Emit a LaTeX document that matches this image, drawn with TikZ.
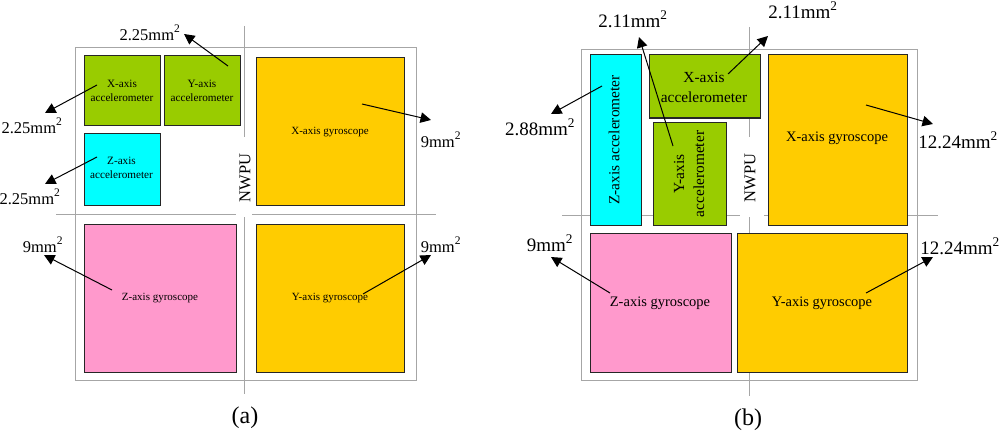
\documentclass[tikz,border=0pt]{standalone}
\usepackage{fontspec}
\setmainfont{Liberation Serif}
\usetikzlibrary{arrows.meta}
\definecolor{grn}{HTML}{99CC00}
\definecolor{cyn}{HTML}{00FFFF}
\definecolor{org}{HTML}{FFCC00}
\definecolor{pnk}{HTML}{FF99CC}
\definecolor{gry}{HTML}{A6A6A6}
\newcommand{\sq}{\raisebox{1.5pt}{\textsuperscript{2}}}
\tikzset{
  x=1pt,y=-1pt,
  guide/.style={draw=gry,line width=0.9pt},
  block/.style={draw=black!85,line width=1pt},
  ptr/.style={draw=black,line width=1pt,-{Triangle[length=10.5pt,width=10.5pt]}},
  fsa/.style={font=\fontsize{11.2}{13.5}\selectfont,align=center,inner sep=0pt,text=black},
  fga/.style={font=\fontsize{11}{13}\selectfont,align=center,inner sep=0pt,text=black},
  fsb/.style={font=\fontsize{15.4}{20}\selectfont,align=center,inner sep=0pt,text=black},
  fgb/.style={font=\fontsize{14.5}{17}\selectfont,align=center,inner sep=0pt,text=black},
  area/.style={font=\fontsize{16.5}{19}\selectfont,inner sep=0pt,text=black},
  areab/.style={font=\fontsize{19}{22}\selectfont,inner sep=0pt,text=black},
  figcap/.style={font=\fontsize{24}{28}\selectfont,inner sep=0pt,text=black},
  nw/.style={font=\fontsize{16.5}{19}\selectfont,inner sep=0pt,rotate=90,text=black}
}
\begin{document}
\begin{tikzpicture}
\useasboundingbox (0,0) rectangle (1000,433);
% panel a guides
\draw[guide,line width=1pt] (75,48) rectangle (416,380);
\draw[guide] (244,26) -- (244,137);
\draw[guide] (244,217) -- (244,394);
\draw[guide] (56,214.5) -- (236,214.5);
\draw[guide] (252,214.5) -- (436,214.5);
% panel a blocks
\path[block,fill=grn] (84,56) rectangle (160,125);
\path[block,fill=grn] (164,56) rectangle (240,125);
\path[block,fill=cyn] (84,133.5) rectangle (160,205);
\path[block,fill=pnk] (84,224) rectangle (236,372);
\path[block,fill=org] (256,58) rectangle (404,205);
\path[block,fill=org] (256,224) rectangle (404,372);
\node[fsa] (ax) at (122,91) {X-axis\\accelerometer};
\node[fsa] (ay) at (202,91) {Y-axis\\accelerometer};
\node[fsa] (az) at (121.5,168) {Z-axis\\accelerometer};
\node[fga] (agx) at (330,132) {X-axis gyroscope};
\node[fga] (agy) at (330,298) {Y-axis gyroscope};
\node[fga] (agz) at (160,298) {Z-axis gyroscope};
\node[nw] (anw) at (245,178) {NWPU};
\node[area] (la1) at (150,33) {2.25mm\sq};
\node[area] (la2) at (32,126) {2.25mm\sq};
\node[area] (la3) at (30,197) {2.25mm\sq};
\node[area] (la4) at (441,140) {9mm\sq};
\node[area] (la5) at (441,245) {9mm\sq};
\node[area] (la6) at (43,245) {9mm\sq};
\coordinate (a1s) at (228,66); \coordinate (a1e) at (184,34);
\coordinate (a2s) at (97,85); \coordinate (a2e) at (45,113);
\coordinate (a3s) at (97,157); \coordinate (a3e) at (45,184);
\coordinate (a4s) at (362,104); \coordinate (a4e) at (431,120);
\coordinate (a5s) at (363,294); \coordinate (a5e) at (431,255);
\coordinate (a6s) at (112,290); \coordinate (a6e) at (44,255);
\foreach \n in {1,...,6} \draw[ptr] (a\n s) -- (a\n e);
\node[figcap] (capa) at (245,418) {(a)};
% panel b guides
\draw[guide,line width=1pt] (581,50) rectangle (917,380);
\draw[guide] (749,27) -- (749,137);
\draw[guide] (749,217) -- (749,396);
\draw[guide] (562,215) -- (740,215);
\draw[guide] (764,215) -- (938,215);
% panel b blocks
\path[block,fill=cyn] (590,55) rectangle (641,225);
\path[block,fill=grn] (649,55) rectangle (760,118);
\path[block,fill=grn] (653,122) rectangle (726,225);
\path[block,fill=org] (768,55) rectangle (907,225);
\path[block,fill=pnk] (590,233) rectangle (731,372);
\path[block,fill=org] (737,233) rectangle (907,372);
\node[fsb,rotate=90] (bz) at (614,140) {Z-axis accelerometer};
\node[fsb] (bx) at (704,87) {X-axis\\accelerometer};
\node[fsb,rotate=90] (by) at (689,174) {Y-axis\\accelerometer};
\node[fgb] (bgx) at (837,138) {X-axis gyroscope};
\node[fgb] (bgy) at (822,303) {Y-axis gyroscope};
\node[fgb] (bgz) at (660,303) {Z-axis gyroscope};
\node[nw] (bnw) at (750,178) {NWPU};
\node[areab] (lb1) at (633,19) {2.11mm\sq};
\node[areab] (lb2) at (803,10) {2.11mm\sq};
\node[areab] (lb3) at (540,127) {2.88mm\sq};
\node[areab] (lb4) at (958,140) {12.24mm\sq};
\node[areab] (lb5) at (960,246) {12.24mm\sq};
\node[areab] (lb6) at (550,243) {9mm\sq};
\coordinate (b1s) at (673,146); \coordinate (b1e) at (639,37);
\coordinate (b2s) at (728,74); \coordinate (b2e) at (768,36);
\coordinate (b3s) at (602,86); \coordinate (b3e) at (551,114);
\coordinate (b4s) at (866,105); \coordinate (b4e) at (933,124);
\coordinate (b5s) at (866,293); \coordinate (b5e) at (933,257);
\coordinate (b6s) at (610,293); \coordinate (b6e) at (551,257);
\foreach \n in {1,...,6} \draw[ptr] (b\n s) -- (b\n e);
\node[figcap] (capb) at (748,420) {(b)};
\end{tikzpicture}
\end{document}
